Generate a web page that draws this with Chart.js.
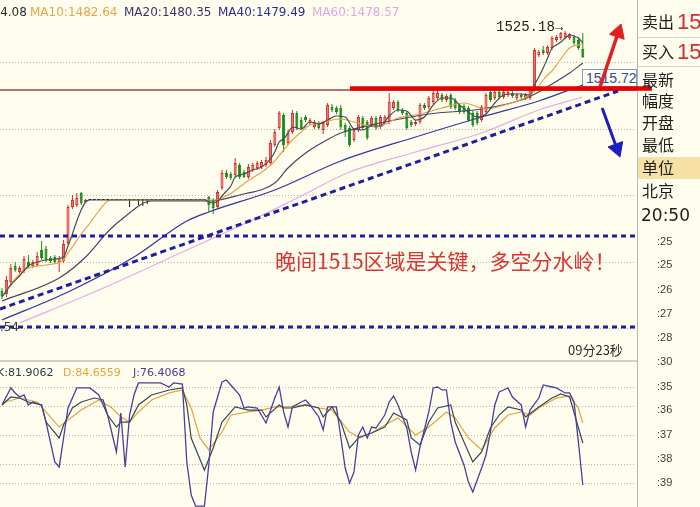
<!DOCTYPE html>
<html lang="zh-CN">
<head>
<meta charset="utf-8">
<title>K线 · MA · KDJ</title>
<script src="https://cdn.jsdelivr.net/npm/chart.js@4.4.1/dist/chart.umd.min.js"></script>
<style>
  html, body { margin:0; padding:0; background:#FFFEEE; }
  #stage { position:relative; width:700px; height:507px; overflow:hidden; background:#FFFEEE; }
  canvas { position:absolute; left:0; z-index:1; }
  #main { top:0; }
  #kdj { top:361px; }
  .t { position:absolute; white-space:nowrap; line-height:1; z-index:2; }
  .rule { position:absolute; z-index:0; }
  #cursorBox { position:absolute; z-index:0; left:582px; width:53px; height:16px; border:1px solid #7D9BD0; }
  #cursorText { position:absolute; left:3px; top:1px; font:14px "Liberation Sans", sans-serif; color:#2E4E9A; line-height:1; }
</style>
</head>
<body>
<div id="stage">
  <div class="rule" style="left:637px;top:0;width:1px;height:507px;background:#B8B8B0"></div>
  <div class="rule" style="left:0;top:360px;width:637px;height:2px;background:#CFCFC8"></div>
  <div class="rule" style="left:638px;top:37px;width:62px;height:1px;background:#D6D6CC"></div>
  <div class="rule" style="left:638px;top:66px;width:62px;height:1px;background:#D6D6CC"></div>
  <div class="rule" style="left:638px;top:157px;width:62px;height:22px;background:#F6E0A4"></div>
  <div id="cursorBox"><span id="cursorText"></span></div>
  <canvas id="main" width="700" height="361"></canvas>
  <canvas id="kdj" width="700" height="146"></canvas>
</div>
<script>
// ---- candles (one per bar, index 0..132) ----
const opens = [
  1473.2, 1472.6, 1475.0, 1478.2, 1477.0, 1477.2, 1479.0, 1478.2, 1478.4, 1481.4,
  1481.6, 1479.8, 1480.0, 1479.0, 1479.2, 1482.8, 1490.0, 1490.4, 1492.8, 1491.0,
  1491.4, 1491.4, 1491.4, 1491.4, 1491.4, 1491.4, 1491.4, 1491.4, 1491.4, 1491.4,
  1491.4, 1491.4, 1491.4, 1491.4, 1491.4, 1491.4, 1491.4, 1491.4, 1491.4, 1491.4,
  1491.4, 1491.4, 1491.4, 1491.4, 1491.4, 1491.4, 1491.4,
  1492.0, 1491.4, 1490.0, 1493.8, 1496.8, 1496.6, 1496.4, 1498.4, 1497.0, 1496.0,
  1497.4, 1497.8, 1498.0, 1498.4, 1498.8, 1502.4, 1505.8, 1508.4, 1502.8, 1505.0,
  1508.8, 1507.4, 1508.0, 1506.8, 1506.0, 1506.8, 1505.4, 1506.4, 1510.0, 1509.8,
  1509.8, 1506.4, 1505.8, 1503.4, 1505.4, 1507.8, 1507.0, 1506.4, 1507.8, 1506.0,
  1507.0, 1507.0, 1509.8, 1511.0, 1509.4, 1508.8, 1507.0, 1506.6, 1507.0, 1510.4,
  1510.0, 1511.0, 1511.8, 1512.4, 1511.4, 1512.4, 1511.4, 1510.4, 1510.2, 1509.8,
  1508.8, 1508.8, 1507.4, 1509.0, 1513.0, 1511.8, 1513.0, 1512.0, 1512.4, 1512.8,
  1511.8, 1512.4, 1511.8, 1511.8, 1513.4, 1520.4, 1521.4, 1520.8, 1521.8, 1523.4,
  1523.8, 1524.0, 1523.8, 1524.0, 1523.4, 1521.6
];
const closes = [
  1472.2, 1475.4, 1477.8, 1477.4, 1477.8, 1479.6, 1478.2, 1479.0, 1480.2, 1479.8,
  1479.4, 1479.2, 1479.0, 1479.8, 1482.6, 1490.0, 1491.4, 1491.8, 1490.8, 1491.4,
  1491.4, 1491.4, 1491.4, 1491.4, 1491.4, 1491.4, 1491.4, 1491.4, 1491.4, 1491.4,
  1491.4, 1491.4, 1491.4, 1491.4, 1491.4, 1491.4, 1491.4, 1491.4, 1491.4, 1491.4,
  1491.4, 1491.4, 1491.4, 1491.4, 1491.4, 1491.4, 1491.4,
  1490.4, 1489.8, 1493.0, 1496.8, 1496.0, 1495.8, 1498.8, 1496.0, 1496.0, 1498.0,
  1498.4, 1498.8, 1499.0, 1499.4, 1502.8, 1505.0, 1508.8, 1502.4, 1504.8, 1508.8,
  1505.8, 1505.8, 1507.4, 1507.4, 1507.0, 1505.8, 1506.8, 1510.4, 1509.4, 1509.0,
  1506.0, 1505.0, 1502.4, 1505.4, 1508.0, 1505.8, 1503.8, 1507.8, 1505.8, 1508.0,
  1508.0, 1511.0, 1511.0, 1509.4, 1508.8, 1505.8, 1506.4, 1507.0, 1510.4, 1509.8,
  1511.8, 1512.8, 1512.8, 1511.4, 1512.2, 1510.0, 1509.8, 1509.0, 1509.0, 1507.4,
  1506.4, 1506.8, 1510.0, 1512.4, 1511.4, 1513.0, 1512.0, 1513.0, 1513.0, 1512.2,
  1512.4, 1512.0, 1512.4, 1513.4, 1521.4, 1521.0, 1520.8, 1522.0, 1523.8, 1524.0,
  1524.8, 1524.8, 1524.6, 1522.8, 1521.8, 1520.0
];
const highs = [
  1473.8, 1476.2, 1478.6, 1479.0, 1478.2, 1480.2, 1480.4, 1479.4, 1481.0, 1483.2,
  1482.2, 1480.2, 1480.4, 1480.2, 1483.4, 1490.4, 1492.4, 1492.8, 1493.0, 1491.6,
  1491.4, 1491.4, 1491.4, 1491.4, 1491.4, 1491.4, 1491.4, 1491.4, 1491.4, 1491.4,
  1491.4, 1491.4, 1491.4, 1491.4, 1491.4, 1491.4, 1491.4, 1491.4, 1491.4, 1491.4,
  1491.4, 1491.4, 1491.4, 1491.4, 1491.4, 1491.4, 1491.4,
  1492.2, 1491.8, 1493.4, 1497.4, 1497.4, 1497.0, 1499.8, 1498.8, 1497.4, 1498.6,
  1498.8, 1499.2, 1499.4, 1500.0, 1503.4, 1505.6, 1509.2, 1508.8, 1505.4, 1509.4,
  1509.2, 1508.0, 1508.4, 1507.8, 1507.4, 1507.2, 1507.2, 1510.8, 1510.6, 1510.2,
  1510.4, 1506.8, 1506.2, 1505.8, 1508.4, 1508.2, 1507.4, 1508.2, 1508.2, 1508.4,
  1508.4, 1512.8, 1511.4, 1511.4, 1509.8, 1509.2, 1507.4, 1507.4, 1510.8, 1510.8,
  1512.2, 1513.2, 1513.4, 1512.8, 1512.6, 1512.8, 1511.8, 1510.8, 1510.6, 1510.2,
  1509.2, 1509.2, 1510.4, 1512.8, 1513.4, 1513.4, 1513.4, 1513.4, 1513.4, 1513.2,
  1512.8, 1512.8, 1512.8, 1513.8, 1521.8, 1521.4, 1522.2, 1522.4, 1524.2, 1524.4,
  1525.0, 1525.18, 1524.8, 1524.4, 1524.0, 1524.8
];
const lows = [
  1471.6, 1472.0, 1474.6, 1477.0, 1476.6, 1476.8, 1477.8, 1477.8, 1478.0, 1479.4,
  1479.0, 1478.8, 1478.6, 1477.0, 1478.8, 1482.4, 1489.6, 1490.0, 1490.4, 1490.8,
  1491.4, 1491.4, 1491.4, 1491.4, 1491.4, 1491.4, 1491.4, 1491.4, 1491.4, 1490.0,
  1491.4, 1490.4, 1490.2, 1490.6, 1491.4, 1491.4, 1491.4, 1491.4, 1491.4, 1491.4,
  1491.4, 1491.4, 1491.4, 1491.4, 1491.4, 1491.4, 1491.4,
  1489.0, 1488.6, 1489.6, 1493.4, 1495.6, 1495.4, 1496.0, 1495.6, 1495.8, 1495.6,
  1497.0, 1497.4, 1497.6, 1498.0, 1498.4, 1502.0, 1505.4, 1501.0, 1502.4, 1504.6,
  1505.4, 1505.4, 1507.0, 1506.4, 1505.6, 1505.4, 1504.6, 1506.0, 1509.0, 1508.6,
  1505.4, 1504.0, 1502.0, 1503.0, 1505.0, 1505.4, 1503.4, 1506.0, 1505.4, 1505.6,
  1506.6, 1506.6, 1509.4, 1509.0, 1508.4, 1505.4, 1506.0, 1506.2, 1506.6, 1509.4,
  1509.6, 1510.6, 1511.4, 1511.0, 1511.0, 1509.6, 1509.4, 1508.6, 1508.6, 1507.0,
  1506.0, 1506.4, 1507.0, 1508.6, 1511.0, 1511.4, 1511.6, 1511.6, 1512.0, 1511.8,
  1511.4, 1511.6, 1511.4, 1511.4, 1513.0, 1520.0, 1520.4, 1520.4, 1521.4, 1523.0,
  1523.4, 1523.6, 1523.4, 1522.4, 1521.4, 1519.8
];

// ---- moving averages, [bar index, price] ----
const ma5 = [[0,1472.0],[2,1474.4],[4,1476.2],[6,1478.2],[8,1479.0],[10,1479.4],[12,1479.6],[14,1480.0],
  [15,1482.2],[16,1484.6],[17,1487.2],[18,1489.4],[19,1491.0],[20,1491.4],[46,1491.4],[47,1491.0],[48,1490.8],
  [49,1491.2],[50,1492.2],[51,1493.2],[52,1494.2],[53,1496.0],[55,1496.6],[57,1497.4],[59,1498.0],[61,1499.6],
  [62,1501.0],[63,1503.0],[64,1503.6],[65,1504.8],[66,1506.0],[68,1505.6],[70,1507.0],[72,1506.6],[74,1507.4],
  [76,1508.2],[78,1508.0],[80,1505.6],[82,1505.4],[84,1506.2],[86,1506.2],[88,1508.2],[90,1509.4],[92,1509.2],
  [94,1507.4],[96,1508.0],[98,1510.4],[100,1511.8],[102,1511.8],[104,1510.4],[106,1509.0],[108,1508.0],
  [110,1508.6],[112,1510.8],[114,1512.4],[116,1512.6],[118,1512.6],[120,1512.4],[121,1514.4],[122,1516.0],
  [123,1517.8],[124,1519.8],[125,1521.8],[126,1522.4],[127,1523.0],[128,1523.8],[129,1524.4],[130,1524.2],
  [131,1523.8],[132,1522.8]];
const ma10 = [[1,1473.4],[5,1477.4],[10,1478.4],[14,1479.4],[15,1480.8],[16,1482.0],[18,1484.6],[20,1486.8],
  [22,1489.2],[24,1491.2],[25,1491.4],[49,1491.4],[50,1491.8],[52,1492.7],[54,1494.0],[56,1495.3],[58,1496.4],
  [60,1497.6],[62,1499.2],[64,1501.4],[66,1503.4],[68,1505.0],[70,1506.4],[72,1506.8],[74,1507.2],[77,1507.6],
  [80,1507.0],[85,1506.0],[90,1507.8],[95,1508.6],[100,1509.8],[105,1510.8],[110,1509.6],[115,1510.6],
  [120,1512.4],[121,1513.2],[122,1514.2],[123,1515.4],[124,1516.4],[125,1517.2],[127,1519.6],[129,1521.8],
  [132,1522.6]];
const ma20 = [[0,1471.2],[13,1475.8],[19,1480.0],[24,1485.0],[27,1487.4],[34,1491.2],[47,1491.2],[54,1492.4],
  [62,1494.8],[65,1497.8],[69,1500.8],[73,1503.0],[77,1504.8],[86,1506.8],[97,1508.6],[109,1509.6],
  [118,1511.4],[122,1513.0],[125,1514.6],[129,1516.8],[132,1518.8]];
const ma40 = [[0,1467.4],[15,1473.0],[30,1480.0],[42,1487.2],[47,1489.0],[62,1493.4],[77,1499.2],
  [94,1504.0],[109,1508.0],[122,1511.2],[132,1514.4]];
const ma60 = [[4,1466.8],[22,1473.4],[45,1482.6],[56,1487.0],[68,1492.2],[79,1497.0],[94,1501.0],
  [109,1504.8],[122,1509.4],[132,1512.0]];

// ---- KDJ oscillator, [bar index, value] ----
const kLine = [[0,81.3],[2,89.6],[4,88.5],[6,84.4],[9,81.3],[10,63.5],[13,46.9],[14,60.4],[16,78.1],[18,84.4],
  [21,88.5],[23,86.5],[24,70.8],[26,58.3],[27,63.5],[29,63.5],[31,81.3],[34,91.7],[38,96.9],[41,99.0],[42,81.3],
  [43,46.9],[46,13.5],[48,36.5],[50,63.5],[53,79.2],[56,76.0],[59,76.0],[60,68.8],[63,81.3],[64,78.1],[66,78.1],
  [69,81.3],[72,78.1],[73,68.8],[75,79.2],[77,63.5],[79,36.5],[81,46.9],[84,52.1],[87,58.3],[89,72.9],[92,65.6],
  [93,46.9],[95,39.6],[97,63.5],[99,78.1],[102,81.3],[103,63.5],[105,42.7],[107,21.9],[109,32.3],[111,57.3],
  [113,70.8],[115,79.2],[118,76.0],[119,68.8],[122,79.2],[125,88.5],[127,92.7],[129,89.6],[132,41.7]];
const dLine = [[0,83.3],[4,88.5],[8,84.4],[11,68.8],[13,58.3],[15,65.6],[18,76.0],[22,86.5],[25,78.1],[27,68.8],
  [29,63.5],[31,74.0],[34,86.5],[38,93.8],[41,96.9],[43,78.1],[45,46.9],[47,34.4],[50,53.1],[52,70.8],[56,74.0],
  [59,76.0],[62,79.2],[65,79.2],[69,81.3],[72,78.1],[75,76.0],[79,53.1],[81,47.9],[84,52.1],[87,60.4],[90,67.7],
  [94,50.0],[97,58.3],[101,74.0],[103,67.7],[106,46.9],[109,34.4],[112,57.3],[115,70.8],[118,74.0],[120,70.8],
  [122,78.1],[126,88.5],[129,90.6],[131,78.1],[132,62.5]];
const jLine = [[0,81.3],[2,99.0],[3,93.8],[4,89.6],[5,91.7],[6,81.3],[7,84.4],[9,81.3],[10,63.5],[12,21.9],
  [13,16.7],[14,46.9],[15,78.1],[17,99.0],[18,99.0],[20,99.0],[22,91.7],[24,70.8],[26,32.3],[27,72.9],[28,16.7],
  [29,70.8],[30,91.7],[31,104.2],[36,104.2],[38,100.0],[39,104.2],[41,103.1],[42,21.9],[43,-12.5],[44,-24.0],
  [46,-24.0],[47,18.8],[48,74.0],[50,105.2],[51,107.3],[52,102.1],[54,91.7],[55,78.1],[56,79.2],[58,78.1],
  [60,62.5],[62,88.5],[63,100.0],[64,74.0],[65,58.3],[66,79.2],[68,84.4],[69,86.5],[70,81.3],[72,68.8],[73,55.2],
  [74,79.2],[76,79.2],[77,47.9],[78,15.6],[79,0.0],[80,11.5],[81,50.0],[82,58.3],[83,46.9],[84,58.3],[85,57.3],
  [87,70.8],[88,84.4],[89,90.6],[90,81.3],[92,57.3],[93,32.3],[94,13.5],[95,37.5],[97,74.0],[98,99.0],[99,100.0],
  [100,96.9],[101,96.9],[102,63.5],[103,42.7],[105,18.8],[106,1.0],[107,-9.4],[109,15.6],[110,29.2],[111,53.1],
  [112,81.3],[113,94.8],[114,96.9],[115,99.0],[116,89.6],[118,81.3],[119,58.3],[120,76.0],[122,88.5],[123,102.1],
  [125,100.0],[126,99.0],[128,93.8],[129,93.8],[130,84.4],[131,42.7],[132,-2.1]];

// ---- reference levels and drawn annotations (price space) ----
const priceGrid = [1519.0, 1505.7, 1492.4, 1479.1, 1465.8];
const kdjGrid = [100, 80, 50, 20, 0];
const supportLevels = [1484.2, 1466.0];
const lastPrice = 1513.4;
const keyLevel = [[79.1, 1513.7], [147.7, 1513.7]];
const trendLine = [[-0.45, 1469.6], [140.0, 1513.2]];
const upArrow = [[135.9, 1514.0], [140.05, 1524.9]];
const downArrow = [[136.4, 1509.8], [139.75, 1501.7]];
const cursorPrice = 1515.72;

// ---- view ranges ----
const X_MIN = -0.4545, X_MAX = 144.09;
const P_MIN = 1459.2, P_MAX = 1531.4;
const K_MIN = -25, K_MAX = 127.08;

const UP = '#D62626', UP_FILL = '#EE7C7C', DOWN = '#178A1C', FLAT = '#151515';
const bars = opens.map((_, i) => i);
const tone = i => closes[i] > opens[i] ? UP : (closes[i] < opens[i] ? DOWN : FLAT);
const pts = arr => arr.map(([x, y]) => ({ x, y }));
const line = (arr, color, width, extra) => Object.assign({
  type: 'line', data: pts(arr), borderColor: color, borderWidth: width,
  pointRadius: 0, fill: false, tension: 0, order: 10
}, extra || {});
const hLine = (v, x0, x1) => [[x0, v], [x1, v]];

const dottedGrid = levels => ({
  id: 'dottedGrid',
  beforeDatasetsDraw(chart) {
    const { ctx, chartArea: a, scales: { y } } = chart;
    ctx.save();
    ctx.strokeStyle = '#B6B6AA';
    ctx.lineWidth = 1;
    ctx.setLineDash([1, 2]);
    levels.forEach(v => {
      const py = Math.round(y.getPixelForValue(v)) + 0.5;
      ctx.beginPath(); ctx.moveTo(a.left, py); ctx.lineTo(a.right, py); ctx.stroke();
    });
    ctx.restore();
  }
});

const baseOptions = (yMin, yMax) => ({
  responsive: false, animation: false, events: [],
  layout: { autoPadding: false, padding: { left: 0, right: 64, top: 0, bottom: 0 } },
  plugins: { legend: { display: false }, tooltip: { enabled: false } },
  scales: {
    x: { type: 'linear', min: X_MIN, max: X_MAX, offset: false, display: false },
    y: { type: 'linear', min: yMin, max: yMax, display: false }
  }
});

const mainChart = new Chart(document.getElementById('main'), {
  type: 'bar',
  data: {
    datasets: [
      {
        type: 'bar', data: bars.map(i => ({ x: i, y: [lows[i], highs[i]] })),
        backgroundColor: bars.map(tone), borderWidth: 0, barThickness: 1,
        grouped: false, inflateAmount: 0, order: 30
      },
      {
        type: 'bar', data: bars.map(i => ({ x: i, y: [opens[i], closes[i]] })),
        backgroundColor: bars.map(i => closes[i] > opens[i] ? UP_FILL : tone(i)),
        borderColor: bars.map(tone), borderWidth: bars.map(i => closes[i] === opens[i] ? 0 : 1),
        borderSkipped: false, barThickness: 3, minBarLength: 1,
        grouped: false, inflateAmount: 0, order: 29
      },
      line(ma60, '#E6AAE6', 1.3, { cubicInterpolationMode: 'monotone', order: 14 }),
      line(ma40, '#3434A6', 1.3, { cubicInterpolationMode: 'monotone', order: 13 }),
      line(ma20, '#4A4266', 1.2, { cubicInterpolationMode: 'monotone', order: 12 }),
      line(ma10, '#E6A24A', 1.2, { cubicInterpolationMode: 'monotone', order: 11 }),
      line(ma5, '#3C5252', 1.2, { cubicInterpolationMode: 'monotone', order: 10 }),
      line(hLine(supportLevels[0], X_MIN, X_MAX), '#1E1EA0', 3, { borderDash: [5, 4], order: 6 }),
      line(hLine(supportLevels[1], X_MIN, X_MAX), '#1E1EA0', 3, { borderDash: [5, 4], order: 6 }),
      line(trendLine, '#1E1EA0', 3, { borderDash: [6, 4], order: 6 }),
      line(hLine(lastPrice, X_MIN, X_MAX), '#9A4444', 1.5, { order: 7 }),
      line(keyLevel, '#E80000', 4.5, { clip: false, order: 4 }),
      line(upArrow, '#E41E1E', 3.5, {
        clip: false, order: 2, pointRadius: [0, 9], pointStyle: 'triangle',
        pointRotation: [0, 18.4], pointBackgroundColor: '#E41E1E', pointBorderColor: '#E41E1E', pointBorderWidth: 1
      }),
      line(downArrow, '#1C1CC8', 3, {
        clip: false, order: 2, pointRadius: [0, 9], pointStyle: 'triangle',
        pointRotation: [0, 159.8], pointBackgroundColor: '#1C1CC8', pointBorderColor: '#1C1CC8', pointBorderWidth: 1
      })
    ]
  },
  options: baseOptions(P_MIN, P_MAX),
  plugins: [dottedGrid(priceGrid)]
});

new Chart(document.getElementById('kdj'), {
  type: 'line',
  data: {
    datasets: [
      line(dLine, '#E6A23C', 1.2, { order: 3 }),
      line(kLine, '#34485A', 1.2, { order: 2 }),
      line(jLine, '#4B3D9C', 1.3, { order: 1 })
    ]
  },
  options: baseOptions(K_MIN, K_MAX),
  plugins: [dottedGrid(kdjGrid)]
});

// ---- text ----
const stage = document.getElementById('stage');
function label(text, left, cy, size, color, opt) {
  opt = opt || {};
  const el = document.createElement('div');
  el.className = 't';
  el.textContent = text;
  el.style.fontFamily = opt.font || (opt.cjk ? '"Noto Sans CJK SC", sans-serif' : '"DejaVu Sans", sans-serif');
  el.style.fontSize = size + 'px';
  el.style.color = color;
  el.style.left = left + 'px';
  el.style.top = (cy - size * (opt.cjk ? 0.56 : 0.49)) + 'px';
  if (opt.right) el.style.transform = 'translateX(-100%)';
  stage.appendChild(el);
  return el;
}

label('MA5:1484.08', -53, 12, 12, '#2B2B2B');
label('MA10:1482.64', 30, 12, 12, '#E8A448');
label('MA20:1480.35', 124, 12, 12, '#3A3466');
label('MA40:1479.49', 218, 12, 12, '#2C2C9C');
label('MA60:1478.57', 312, 12, 12, '#E2A4E2');

label('K:81.9062', -3, 372, 11, '#2C3E4E');
label('D:84.6559', 63, 372, 11, '#E8A23A');
label('J:76.4068', 133, 372, 11, '#4A3C96');

label('晚间1515区域是关键，多空分水岭！', 275, 262, 21, '#D83434', { cjk: true });
label('09分23秒', 568, 350, 13, '#2A2A2A', { cjk: true });
label('1466.54', 19, 327, 12, '#3A3A3A', { right: true });

[['卖出', 22], ['买入', 52], ['最新', 80], ['幅度', 101], ['开盘', 123], ['最低', 145], ['单位', 168], ['北京', 191]]
  .forEach(([t, y]) => label(t, 642, y, 16, '#1E1E1E', { cjk: true }));
label('1516.05', 677, 22, 22, '#D62C2C', { font: '"Liberation Sans", sans-serif' });
label('1515.86', 677, 52, 22, '#D62C2C', { font: '"Liberation Sans", sans-serif' });
label('20:50', 641, 215, 17, '#1E1E1E');
[[':25', 241], [':25', 264], [':26', 289], [':27', 313], [':28', 337], [':30', 361],
 [':35', 386], [':36', 409], [':37', 434], [':38', 458], [':39', 482]]
  .forEach(([t, y]) => label(t, 657, y, 11, '#3C3C3C', { font: '"Liberation Sans", sans-serif' }));

// peak marker and cursor price box, placed through the price scales
const xs = mainChart.scales.x, ys = mainChart.scales.y;
const peak = highs.indexOf(Math.max(...highs));
label(highs[peak].toFixed(2) + '→', xs.getPixelForValue(peak) - 2, ys.getPixelForValue(highs[peak]) - 4, 14, '#1E1E1E',
  { font: '"Liberation Mono", monospace', right: true });
const box = document.getElementById('cursorBox');
box.style.top = (ys.getPixelForValue(cursorPrice) - 9) + 'px';
document.getElementById('cursorText').textContent = cursorPrice.toFixed(2);
</script>
</body>
</html>
